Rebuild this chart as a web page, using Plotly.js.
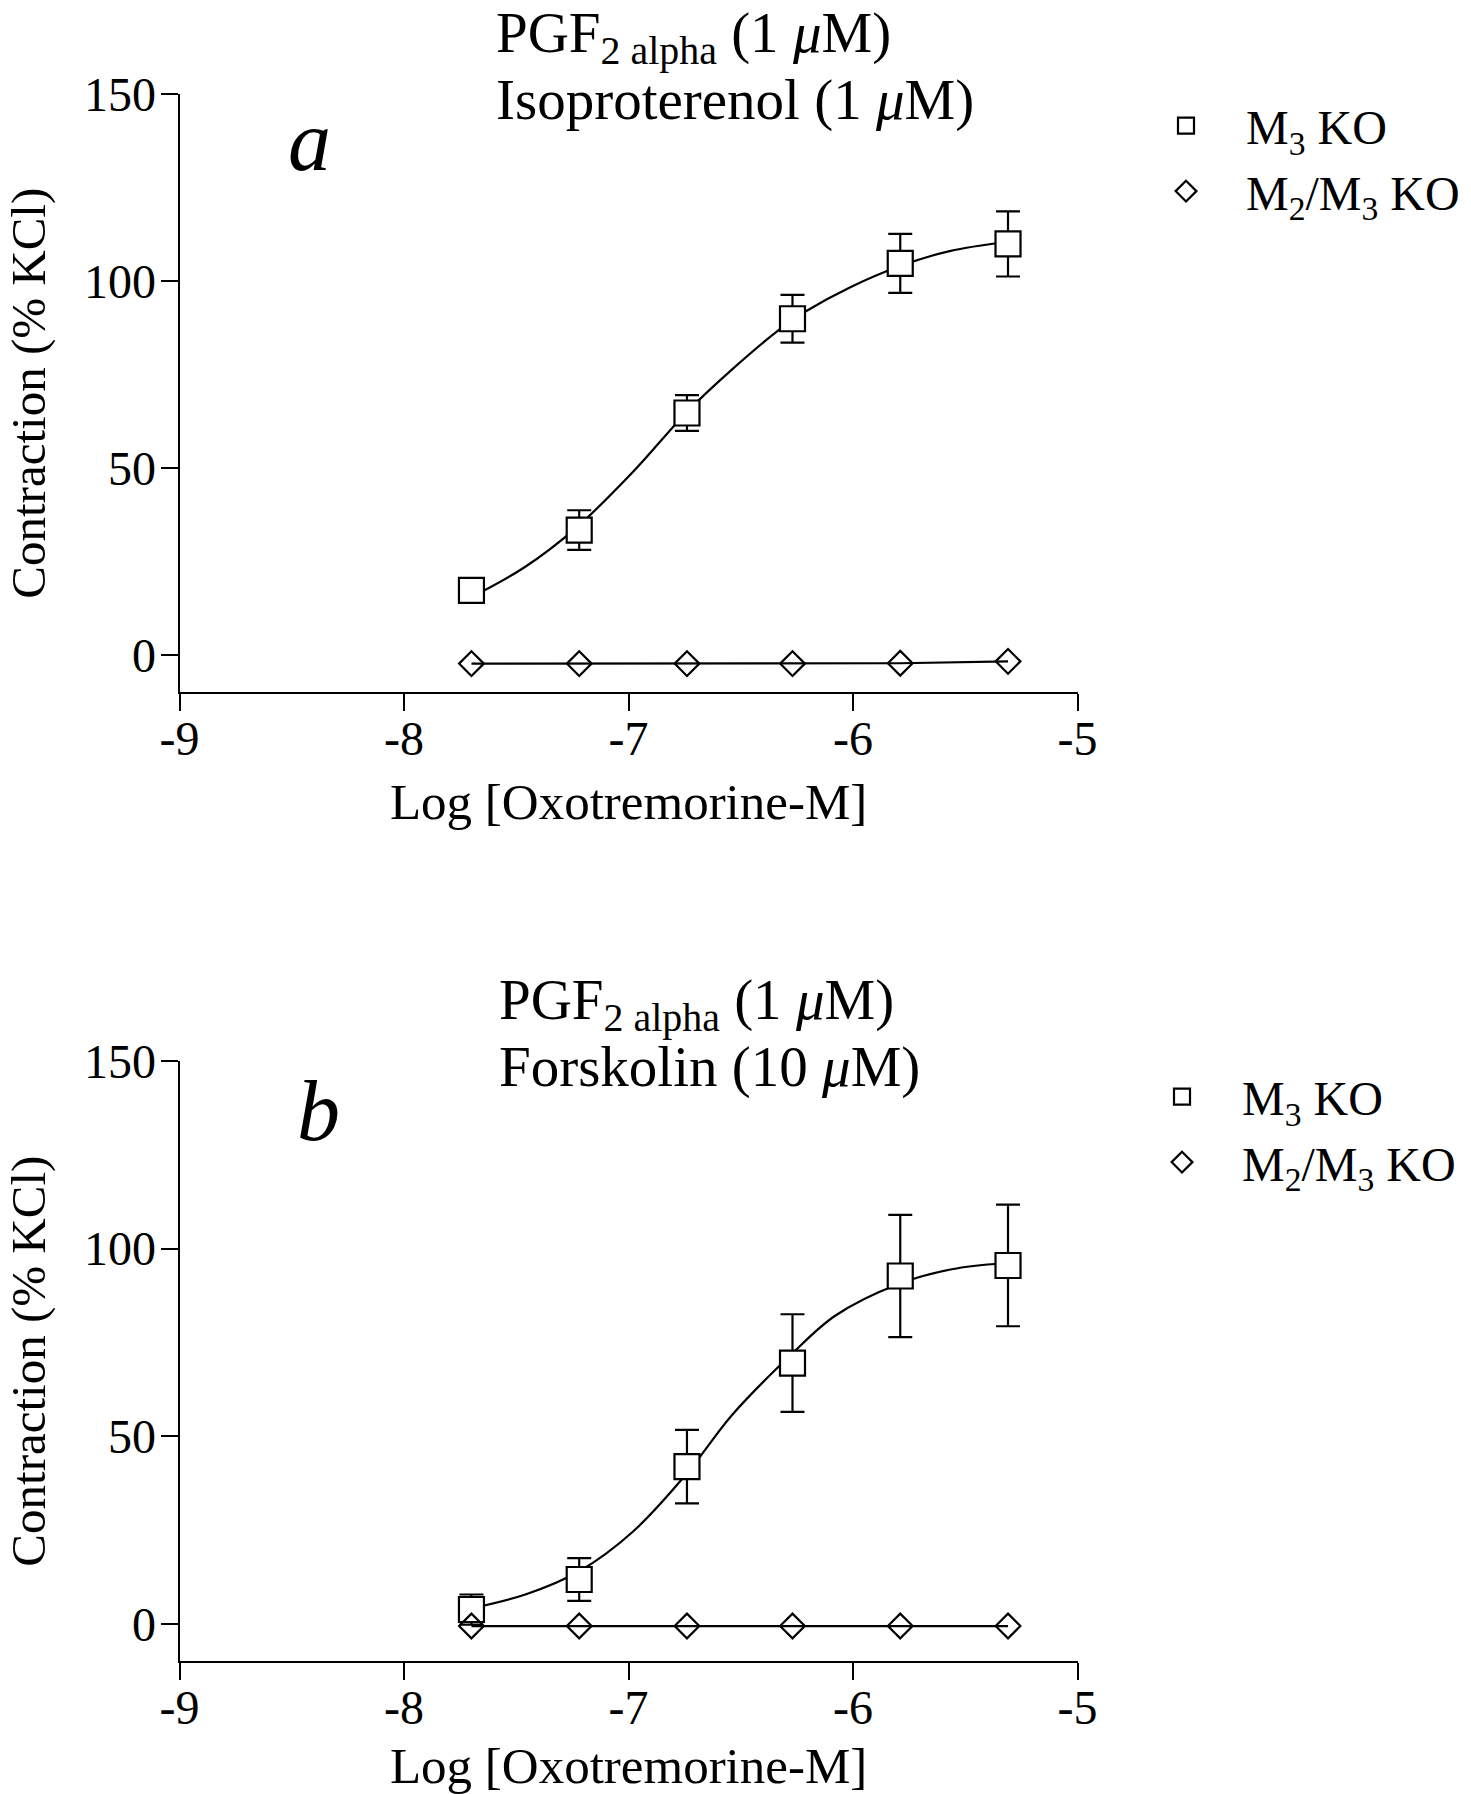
<!DOCTYPE html>
<html>
<head>
<meta charset="utf-8">
<script src="https://cdn.plot.ly/plotly-3.0.1.min.js"></script>
<style>html,body{margin:0;padding:0;background:#fff;}#chart{width:1471px;height:1794px;}</style>
</head>
<body>
<div id="chart"></div>
<script>
// ---- data ----
var logConc = [-7.70, -7.22, -6.74, -6.27, -5.79, -5.31];

// Panel a: PGF2alpha (1 uM) + Isoproterenol (1 uM)
var a_m3 = [17.3, 33.4, 64.7, 89.9, 104.7, 109.9];
var a_m3_sem = [1.0, 5.3, 4.8, 6.4, 7.9, 8.7];
var a_m2m3 = [-2.3, -2.3, -2.3, -2.3, -2.2, -1.7];
var a_fit_x = [-7.70, -7.46, -7.23, -6.98, -6.74, -6.54, -6.32, -6.21, -6.01, -5.79, -5.57, -5.31];
var a_fit_y = [15.5, 23.6, 34.2, 49.0, 65.0, 76.3, 87.4, 91.9, 98.4, 104.0, 108.0, 110.5];

// Panel b: PGF2alpha (1 uM) + Forskolin (10 uM)
var b_m3 = [3.8, 11.8, 41.9, 69.5, 92.7, 95.5];
var b_m3_sem = [4.0, 5.7, 9.8, 13.0, 16.3, 16.2];
var b_m2m3 = [-0.6, -0.6, -0.6, -0.6, -0.6, -0.6];
var b_fit_x = [-7.70, -7.46, -7.22, -6.98, -6.74, -6.54, -6.28, -6.08, -5.80, -5.56, -5.33];
var b_fit_y = [4.1, 7.8, 14.0, 24.6, 40.1, 55.6, 71.5, 82.1, 90.5, 94.5, 96.1];

var xTickVals = [-9, -8, -7, -6, -5];
var xTickText = ['-9', '-8', '-7', '-6', '-5'];
var yTickVals = [0, 50, 100, 150];
var yTickText = ['0', '50', '100', '150'];

var seriesNames = ['M<sub>3</sub> KO', 'M<sub>2</sub>/M<sub>3</sub> KO'];
var xTitle = 'Log [Oxotremorine-M]';
var yTitle = 'Contraction (% KCl)';
var titleA = ['PGF<sub>2 alpha</sub> (1 <i>\u03bc</i>M)', 'Isoproterenol (1 <i>\u03bc</i>M)'];
var titleB = ['PGF<sub>2 alpha</sub> (1 <i>\u03bc</i>M)', 'Forskolin (10 <i>\u03bc</i>M)'];
var panelLetters = ['a', 'b'];

// ---- styling ----
var FONT = 'Liberation Serif, Times New Roman, serif';
var W = 1471, H = 1794;

function panelTraces(xa, ya, legendId, m3, sem, m2m3, fx, fy) {
  return [
    { // fitted curve M3 KO
      x: fx, y: fy, xaxis: xa, yaxis: ya, mode: 'lines', type: 'scatter',
      line: {color: '#000', width: 2.2, shape: 'spline', smoothing: 1},
      showlegend: false, hoverinfo: 'skip'
    },
    { // M3 KO points
      x: logConc, y: m3, xaxis: xa, yaxis: ya, mode: 'markers', type: 'scatter',
      name: seriesNames[0], legend: legendId,
      marker: {symbol: 'square', size: 25, color: '#fff', line: {color: '#000', width: 2.2}},
      error_y: {type: 'data', array: sem, visible: true, color: '#000', thickness: 2.2, width: 12}
    },
    { // M2/M3 connecting line
      x: logConc, y: m2m3, xaxis: xa, yaxis: ya, mode: 'lines', type: 'scatter',
      line: {color: '#000', width: 2.2}, showlegend: false, hoverinfo: 'skip'
    },
    { // M2/M3 KO points
      x: logConc, y: m2m3, xaxis: xa, yaxis: ya, mode: 'markers', type: 'scatter',
      name: seriesNames[1], legend: legendId,
      marker: {symbol: 'diamond-open', size: 19, color: '#000', line: {color: '#000', width: 2.2}}
    }
  ];
}

var data = [].concat(
  panelTraces('x', 'y', 'legend', a_m3, a_m3_sem, a_m2m3, a_fit_x, a_fit_y),
  panelTraces('x2', 'y2', 'legend2', b_m3, b_m3_sem, b_m2m3, b_fit_x, b_fit_y)
);

function xAxis(anchor) {
  return {
    domain: [179.6 / W, 1077.6 / W], range: [-9, -5], anchor: anchor,
    tickmode: 'array', tickvals: xTickVals, ticktext: xTickText,
    ticks: 'outside', ticklen: 17, tickwidth: 2, tickcolor: '#000',
    ticklabelstandoff: -14,
    showline: true, linewidth: 2, linecolor: '#000',
    showgrid: false, zeroline: false,
    tickfont: {family: FONT, size: 48, color: '#000'},
    title: {text: xTitle, font: {family: FONT, size: 51, color: '#000'}, standoff: 19}
  };
}
function yAxis(anchor, topPx, botPx) {
  return {
    domain: [1 - botPx / H, 1 - topPx / H], range: [-10, 150], anchor: anchor,
    tickmode: 'array', tickvals: yTickVals, ticktext: yTickText,
    ticks: 'outside', ticklen: 17, tickwidth: 2, tickcolor: '#000',
    ticklabelstandoff: -5,
    showline: true, linewidth: 2, linecolor: '#000',
    showgrid: false, zeroline: false,
    tickfont: {family: FONT, size: 48, color: '#000'},
    title: {text: yTitle, font: {family: FONT, size: 49, color: '#000'}, standoff: 23}
  };
}

function ann(text, xPx, yPx, size, xanchor) {
  return {
    text: text, xref: 'paper', yref: 'paper', x: xPx / W, y: 1 - yPx / H,
    xanchor: xanchor, yanchor: 'middle', showarrow: false, align: 'left',
    font: {family: FONT, size: size, color: '#000'}
  };
}

var legendBase = {
  font: {family: FONT, size: 48, color: '#000'},
  bgcolor: 'rgba(0,0,0,0)', borderwidth: 0,
  xanchor: 'left', yanchor: 'top', itemwidth: 110, tracegroupgap: 0
};

var layout = {
  width: W, height: H,
  margin: {l: 0, r: 0, t: 0, b: 0},
  paper_bgcolor: '#fff', plot_bgcolor: '#fff',
  showlegend: true,
  xaxis: xAxis('y'),
  yaxis: yAxis('x', 94, 692.4),
  xaxis2: xAxis('y2'),
  yaxis2: yAxis('x2', 1061, 1661.3),
  legend: Object.assign({}, legendBase, {x: 1126 / W, y: 1 - 88 / H}),
  legend2: Object.assign({}, legendBase, {x: 1122 / W, y: 1 - 1059 / H}),
  annotations: [
    ann(titleA[0], 494, 37, 57, 'left'),
    ann(titleA[1], 494, 100, 57, 'left'),
    ann('<i>' + panelLetters[0] + '</i>', 309, 141, 86, 'center'),
    ann(titleB[0], 497, 1004, 57, 'left'),
    ann(titleB[1], 497, 1067, 57, 'left'),
    ann('<i>' + panelLetters[1] + '</i>', 318, 1111, 86, 'center')
  ]
};

Plotly.newPlot('chart', data, layout, {staticPlot: true, displayModeBar: false});
</script>
</body>
</html>
